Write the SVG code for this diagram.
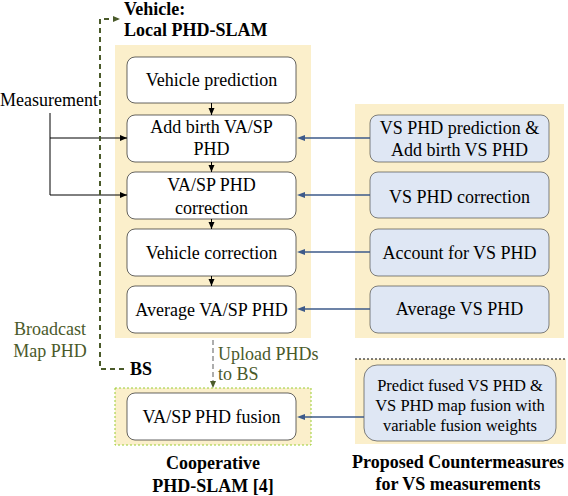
<svg xmlns="http://www.w3.org/2000/svg" width="568" height="496" viewBox="0 0 568 496">
<style>
text{font-family:"Liberation Serif","DejaVu Serif",serif;font-size:18px;fill:#000}
.c{text-anchor:middle}
.b{font-weight:bold}
.g{fill:#4a5a2a}
.s{font-size:16.5px}
.cream{fill:#fbefcb}
.wbox{fill:#fff;stroke:#222;stroke-width:0.7}
.bbox{fill:#dfe7f4;stroke:#333;stroke-width:0.6}
.blk{stroke:#000;stroke-width:1;fill:none}
.blu{stroke:#3d5a8a;stroke-width:1.4;fill:none}
</style>
<defs>
<marker id="ak" markerWidth="8" markerHeight="8" refX="7" refY="4" orient="auto" markerUnits="userSpaceOnUse"><path d="M0,1 L7,4 L0,7 z" fill="#000"/></marker>
<marker id="ab" markerWidth="9" markerHeight="8" refX="1" refY="4" orient="auto" markerUnits="userSpaceOnUse"><path d="M0,1 L8,4 L0,7 z" fill="#3d5a8a"/></marker>
<marker id="ag" markerWidth="8" markerHeight="8" refX="7" refY="4" orient="auto" markerUnits="userSpaceOnUse"><path d="M0,1 L7,4 L0,7 z" fill="#4a5a2a"/></marker>
</defs>

<g id="panels">
<rect class="cream" x="115" y="45" width="196" height="293"/>
<rect class="cream" x="355" y="104" width="209" height="234"/>
<rect class="cream" x="115" y="388" width="196" height="57" stroke="#9acd32" stroke-width="1" stroke-dasharray="2,2"/>
<rect class="cream" x="355" y="359" width="211" height="85"/>
<line x1="355" y1="359" x2="566" y2="359" stroke="#000" stroke-width="1" stroke-dasharray="2,2"/>
</g>

<g id="titles">
<text class="b" x="124" y="15">Vehicle:</text>
<text class="b" x="124" y="36">Local PHD-SLAM</text>
<text class="b c" x="213" y="469">Cooperative</text>
<text class="b c" x="213" y="492">PHD-SLAM [4]</text>
<text class="b c" x="458" y="468">Proposed Countermeasures</text>
<text class="b c" x="458" y="490">for VS measurements</text>
<text x="0" y="106">Measurement</text>
<text class="g c" x="50" y="335">Broadcast</text>
<text class="g c" x="50" y="357">Map PHD</text>
<text class="b" x="130" y="375">BS</text>
<text class="g" x="218" y="360">Upload PHDs</text>
<text class="g" x="218" y="380">to BS</text>
</g>

<g id="n1"><rect class="wbox" x="127" y="57" width="169" height="46" rx="8"/><text class="c" x="211.5" y="86">Vehicle prediction</text></g>
<g id="n2"><rect class="wbox" x="127" y="115" width="169" height="47" rx="8"/><text class="c" x="211.5" y="133">Add birth VA/SP</text><text class="c" x="211.5" y="155">PHD</text></g>
<g id="n3"><rect class="wbox" x="127" y="172" width="169" height="47" rx="8"/><text class="c" x="211.5" y="191">VA/SP PHD</text><text class="c" x="211.5" y="214">correction</text></g>
<g id="n4"><rect class="wbox" x="127" y="229" width="169" height="47" rx="8"/><text class="c" x="211.5" y="259">Vehicle correction</text></g>
<g id="n5"><rect class="wbox" x="127" y="286" width="169" height="47" rx="8"/><text class="c" x="211.5" y="316">Average VA/SP PHD</text></g>
<g id="n6"><rect class="wbox" x="127" y="393" width="169" height="47" rx="8"/><text class="c" x="211.5" y="423">VA/SP PHD fusion</text></g>

<g id="r1"><rect class="bbox" x="370" y="115" width="179" height="47" rx="8"/><text class="c" x="459.5" y="134">VS PHD prediction &amp;</text><text class="c" x="459.5" y="156">Add birth VS PHD</text></g>
<g id="r2"><rect class="bbox" x="370" y="172" width="179" height="46" rx="8"/><text class="c" x="459.5" y="203">VS PHD correction</text></g>
<g id="r3"><rect class="bbox" x="370" y="229" width="179" height="47" rx="8"/><text class="c" x="459.5" y="259">Account for VS PHD</text></g>
<g id="r4"><rect class="bbox" x="370" y="286" width="179" height="47" rx="8"/><text class="c" x="459.5" y="315">Average VS PHD</text></g>
<g id="r5"><rect class="bbox" x="364" y="365" width="192" height="76" rx="13"/><text class="c s" x="460" y="391">Predict fused VS PHD &amp;</text><text class="c s" x="460" y="411">VS PHD map fusion with</text><text class="c s" x="460" y="431">variable fusion weights</text></g>

<g id="connectors">
<line class="blk" x1="211.5" y1="103" x2="211.5" y2="115" marker-end="url(#ak)"/>
<line class="blk" x1="211.5" y1="162" x2="211.5" y2="172" marker-end="url(#ak)"/>
<line class="blk" x1="211.5" y1="219" x2="211.5" y2="229" marker-end="url(#ak)"/>
<line class="blk" x1="211.5" y1="276" x2="211.5" y2="286" marker-end="url(#ak)"/>
<polyline class="blk" points="50,113 50,195"/>
<line class="blk" x1="50" y1="138" x2="127" y2="138" marker-end="url(#ak)"/>
<line class="blk" x1="50" y1="195" x2="127" y2="195" marker-end="url(#ak)"/>
<line class="blu" x1="370" y1="138" x2="304" y2="138" marker-end="url(#ab)"/>
<line class="blu" x1="370" y1="195" x2="304" y2="195" marker-end="url(#ab)"/>
<line class="blu" x1="370" y1="252" x2="304" y2="252" marker-end="url(#ab)"/>
<line class="blu" x1="370" y1="309" x2="304" y2="309" marker-end="url(#ab)"/>
<line class="blu" x1="364" y1="417" x2="304" y2="417" marker-end="url(#ab)"/>
<polyline points="124,369 100,369 100,19 120,19" fill="none" stroke="#4a5a2a" stroke-width="2" stroke-dasharray="5,4" marker-end="url(#ag)"/>
<line x1="213" y1="340" x2="213" y2="388" stroke="#999" stroke-width="1.6" stroke-dasharray="5,3" marker-end="url(#ag)"/>
</g>
</svg>
